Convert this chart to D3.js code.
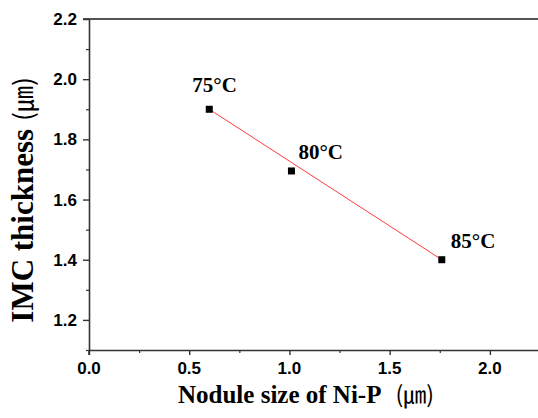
<!DOCTYPE html>
<html lang="en">
<head>
  <meta charset="UTF-8">
  <title>IMC thickness vs Nodule size</title>
  <script src="https://d3js.org/d3.v7.min.js"></script>
  <style>
    body { margin: 0; background: #fff; }
    svg { display: block; }
  </style>
</head>
<body>
<svg id="chart" width="538" height="418"></svg>
<script>
// data
const nodule = [0.6, 1.01, 1.76];          // Nodule size of Ni-P (um)
const imc = [1.9, 1.695, 1.4];             // IMC thickness (um)
const temps = ["75°C", "80°C", "85°C"];
const xTicks = [0, 0.5, 1.0, 1.5, 2.0];
const yTicks = [1.2, 1.4, 1.6, 1.8, 2.0, 2.2];

const data = nodule.map((x, i) => ({ x, y: imc[i], label: temps[i] }));

const svg = d3.select("#chart");
const margin = { top: 19, right: -2, bottom: 68, left: 89 };
const width = +svg.attr("width");
const height = +svg.attr("height");

const x = d3.scaleLinear().domain([0, 2.25]).range([margin.left, width - margin.right]);
const y = d3.scaleLinear().domain([1.1, 2.2]).range([height - margin.bottom, margin.top]);

const axisColor = "#333";
const serif = "'Liberation Serif', 'Times New Roman', serif";
const sans = "'Liberation Sans', Arial, sans-serif";
const fmt = d3.format(".1f");

// top border
svg.append("line")
  .attr("x1", x(0) - 6).attr("x2", width)
  .attr("y1", y(2.2)).attr("y2", y(2.2))
  .attr("stroke", "#555").attr("stroke-width", 2);

// minor ticks
const xMinor = d3.range(0.25, 2.25, 0.5);
const yMinor = d3.range(1.1, 2.2, 0.2).map(v => +v.toFixed(2));

svg.append("g")
  .attr("transform", `translate(0,${y(1.1)})`)
  .call(d3.axisBottom(x).tickValues(xMinor).tickSize(3).tickFormat("").tickSizeOuter(0))
  .call(g => g.select(".domain").remove())
  .call(g => g.selectAll("line").attr("stroke", axisColor).attr("stroke-width", 1.2));

svg.append("g")
  .attr("transform", `translate(${x(0)},0)`)
  .call(d3.axisLeft(y).tickValues(yMinor).tickSize(3).tickFormat("").tickSizeOuter(0))
  .call(g => g.select(".domain").remove())
  .call(g => g.selectAll("line").attr("stroke", axisColor).attr("stroke-width", 1.2));

// major axes (labels drawn separately)
svg.append("g")
  .attr("class", "major")
  .attr("transform", `translate(0,${y(1.1)})`)
  .call(d3.axisBottom(x).tickValues(xTicks).tickSize(5).tickSizeOuter(0).tickFormat(""));

svg.append("g")
  .attr("class", "major")
  .attr("transform", `translate(${x(0)},0)`)
  .call(d3.axisLeft(y).tickValues(yTicks).tickSize(6).tickSizeOuter(0).tickFormat(""));

svg.selectAll("g.major .domain").attr("stroke", axisColor).attr("stroke-width", 1.6);
svg.selectAll("g.major .tick line").attr("stroke", axisColor).attr("stroke-width", 1.4);

svg.append("g").selectAll("text")
  .data(xTicks)
  .enter()
  .append("text")
  .attr("x", d => x(d))
  .attr("y", y(1.1) + 24)
  .attr("text-anchor", "middle")
  .style("font-family", sans)
  .style("font-weight", "bold")
  .style("font-size", "17px")
  .text(fmt);

svg.append("g").selectAll("text")
  .data(yTicks)
  .enter()
  .append("text")
  .attr("x", x(0) - 12)
  .attr("y", d => y(d) + 6)
  .attr("text-anchor", "end")
  .style("font-family", sans)
  .style("font-weight", "bold")
  .style("font-size", "17px")
  .text(fmt);

// small stub of the y axis below the x axis
svg.append("line")
  .attr("x1", x(0)).attr("x2", x(0))
  .attr("y1", y(1.1)).attr("y2", y(1.1) + 5)
  .attr("stroke", axisColor).attr("stroke-width", 1.6);

// red line between the end points
const first = data[0], last = data[data.length - 1];
svg.append("path")
  .datum([first, last])
  .attr("fill", "none")
  .attr("stroke", "#ff3b3b")
  .attr("stroke-width", 1)
  .attr("d", d3.line().x(d => x(d.x)).y(d => y(d.y)));

// square markers
svg.selectAll(".pt")
  .data(data)
  .enter()
  .append("rect")
  .attr("class", "pt")
  .attr("x", d => x(d.x) - 3.5)
  .attr("y", d => y(d.y) - 3.5)
  .attr("width", 7)
  .attr("height", 7)
  .attr("fill", "#000");

// point labels
const labelOffsets = [[-17, -17], [7, -12], [9, -12]];
svg.selectAll(".lbl")
  .data(data)
  .enter()
  .append("text")
  .attr("class", "lbl")
  .attr("x", (d, i) => x(d.x) + labelOffsets[i][0])
  .attr("y", (d, i) => y(d.y) + labelOffsets[i][1])
  .attr("font-family", serif)
  .attr("font-weight", "bold")
  .attr("font-size", 21)
  .text(d => d.label);

// axis titles
const xt = svg.append("text")
  .attr("x", 178)
  .attr("y", 403)
  .attr("font-family", serif)
  .attr("font-weight", "bold")
  .attr("font-size", 25);
xt.append("tspan").text("Nodule size of Ni-P");
xt.append("tspan")
  .attr("dx", 14)
  .attr("font-weight", "normal")
  .attr("font-size", 23)
  .attr("font-family", "'Noto Sans CJK KR', serif")
  .text("(㎛)");

const yt = svg.append("text")
  .attr("transform", `translate(33,200) rotate(-90)`)
  .attr("text-anchor", "middle")
  .attr("font-family", serif)
  .attr("font-weight", "bold")
  .attr("font-size", 31);
yt.append("tspan").text("IMC thickness");
yt.append("tspan")
  .attr("dx", 8)
  .attr("font-weight", "normal")
  .attr("font-size", 26)
  .attr("font-family", "'Noto Sans CJK KR', serif")
  .text("(㎛)");
</script>
</body>
</html>
